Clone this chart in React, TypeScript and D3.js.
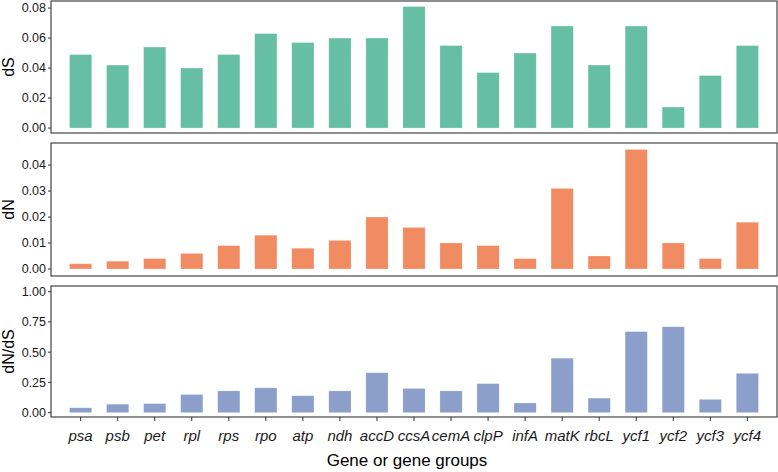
import React from "react";
import * as d3 from "d3";

const genes = ["psa","psb","pet","rpl","rps","rpo","atp","ndh","accD","ccsA","cemA","clpP","infA","matK","rbcL","ycf1","ycf2","ycf3","ycf4"];
const dS = [0.049,0.042,0.054,0.040,0.049,0.063,0.057,0.060,0.060,0.081,0.055,0.037,0.050,0.068,0.042,0.068,0.014,0.035,0.055];
const dN = [0.002,0.003,0.004,0.006,0.009,0.013,0.008,0.011,0.020,0.016,0.010,0.009,0.004,0.031,0.005,0.046,0.010,0.004,0.018];
const ratio = [0.04,0.07,0.075,0.15,0.18,0.205,0.14,0.18,0.33,0.2,0.18,0.24,0.08,0.45,0.12,0.67,0.71,0.11,0.325];
const dSTicks = [0, 0.02, 0.04, 0.06, 0.08];
const dNTicks = [0, 0.01, 0.02, 0.03, 0.04];
const ratioTicks = [0, 0.25, 0.5, 0.75, 1.0];

const W = 778, H = 472;
const left = 51, right = 777;
const font = "'Liberation Sans', Arial, Helvetica, sans-serif";

const panels = [
  { title: "dS", values: dS, ticks: dSTicks, fmt: d3.format(".2f"), color: "#66bfa2", top: 1, bottom: 133, domain: [-0.0033, 0.0847] },
  { title: "dN", values: dN, ticks: dNTicks, fmt: d3.format(".2f"), color: "#f08b62", top: 143, bottom: 276, domain: [-0.0027, 0.0485] },
  { title: "dN/dS", values: ratio, ticks: ratioTicks, fmt: d3.format(".2f"), color: "#8c9fcb", top: 286, bottom: 417, domain: [-0.036, 1.047] },
];

export default function App() {
  const x = d3.scaleBand<string>().domain(genes).range([left, right]).paddingInner(0.4).paddingOuter(0.5);
  return (
    <svg width={W} height={H} style={{ position: "absolute", left: 0, top: 0, background: "#fff" }} fontFamily={font}>
      {panels.map((p) => {
        const y = d3.scaleLinear().domain(p.domain).range([p.bottom, p.top]);
        const midY = (p.top + p.bottom) / 2;
        return (
          <g key={p.title}>
            {p.values.map((v, i) => (
              <rect key={genes[i]} x={x(genes[i])} width={x.bandwidth()} y={y(v)} height={y(0) - y(v)}
                fill={p.color} stroke="#ffffff" strokeOpacity={0.4} strokeWidth={0.6} />
            ))}
            <rect x={left} y={p.top} width={right - left} height={p.bottom - p.top} fill="none" stroke="#333" strokeWidth={1.1} />
            {p.ticks.map((t) => (
              <g key={t}>
                <line x1={left - 3} x2={left} y1={y(t)} y2={y(t)} stroke="#333" strokeWidth={1} />
                <text x={left - 5} y={y(t)} dy="0.35em" textAnchor="end" fontSize={12.5} fill="#1a1a1a">{p.fmt(t)}</text>
              </g>
            ))}
            <text transform={`translate(8,${midY}) rotate(-90)`} textAnchor="middle" fontSize={16} dy="0.35em" fill="#000">{p.title}</text>
          </g>
        );
      })}
      {genes.map((g) => {
        const cx = (x(g) as number) + x.bandwidth() / 2;
        return (
          <g key={g}>
            <line x1={cx} x2={cx} y1={417} y2={421} stroke="#333" strokeWidth={1} />
            <text x={cx} y={441} textAnchor="middle" fontSize={15} fontStyle="italic" fill="#1a1a1a">{g}</text>
          </g>
        );
      })}
      <text x={407} y={466} textAnchor="middle" fontSize={17} fill="#000">Gene or gene groups</text>
    </svg>
  );
}
